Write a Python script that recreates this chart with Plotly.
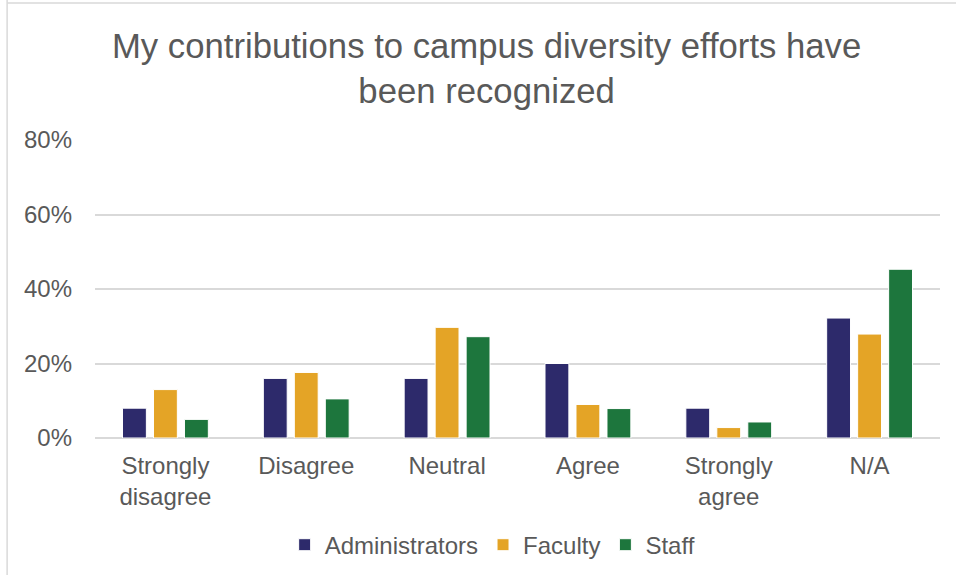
import plotly.graph_objects as go

# survey responses, share of each group
categories = ["Strongly<br>disagree", "Disagree", "Neutral", "Agree", "Strongly<br>agree", "N/A"]
administrators = [0.08, 0.16, 0.16, 0.20, 0.08, 0.322]
faculty = [0.13, 0.176, 0.297, 0.09, 0.028, 0.279]
staff = [0.05, 0.105, 0.272, 0.079, 0.043, 0.453]

series = [
    ("Administrators", administrators, "#2D2A6B"),
    ("Faculty", faculty, "#E4A426"),
    ("Staff", staff, "#1D763D"),
]

fig = go.Figure()
for name, values, color in series:
    fig.add_trace(go.Bar(
        x=categories, y=values, name=name,
        marker=dict(color=color, line=dict(color="white", width=1)),
    ))

text_color = "#595959"
fig.update_layout(
    width=956, height=575,
    margin=dict(l=95, r=16, t=140, b=137),
    paper_bgcolor="white", plot_bgcolor="white",
    font=dict(family="Liberation Sans, Arial, sans-serif", size=24, color=text_color),
    title=dict(
        text="My contributions to campus diversity efforts have<br>been recognized",
        x=0.509, xanchor="center", y=0.90, yanchor="middle",
        font=dict(size=34.7, color=text_color),
    ),
    barmode="group", bargap=0.34, bargroupgap=0.23,
    legend=dict(orientation="h", x=0.47, xanchor="center", yref="container", y=0.052,
                yanchor="middle", font=dict(size=24, color=text_color), itemwidth=30,
                tracegroupgap=0),
    showlegend=True,
)
fig.update_yaxes(range=[0, 0.8], dtick=0.2, tickformat=".0%", showgrid=True,
                 gridcolor="#D9D9D9", gridwidth=1.5, zeroline=True, zerolinecolor="#D9D9D9",
                 zerolinewidth=1.5, ticklabelstandoff=22, showline=False, automargin=False)
fig.update_xaxes(showline=False, ticks="", ticklabelstandoff=11, automargin=False)

# light border of the chart frame (left and top edges)
fig.add_shape(type="line", xref="paper", yref="paper", x0=-0.104, x1=-0.104, y0=-0.5, y1=1.5,
              line=dict(color="#D9D9D9", width=1.5))
fig.add_shape(type="line", xref="paper", yref="paper", x0=-0.104, x1=1.1, y0=1.46, y1=1.46,
              line=dict(color="#D9D9D9", width=1.5))

fig.write_html("out.html", config={"displayModeBar": False},
               post_script="document.body.style.margin='0';document.body.style.overflow='hidden';")
